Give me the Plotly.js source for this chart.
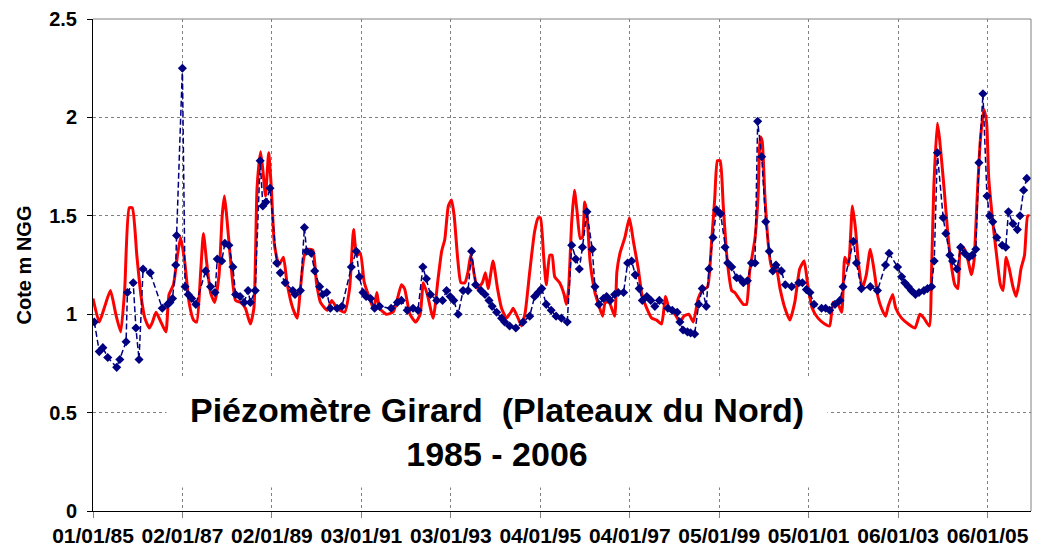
<!DOCTYPE html>
<html>
<head>
<meta charset="utf-8">
<script src="https://cdn.plot.ly/plotly-3.0.1.min.js"></script>
<style>html,body{margin:0;padding:0;background:#fff;}#chart{width:1038px;height:551px;}</style>
</head>
<body>
<div id="chart"></div>
<script>
// Observed levels (blue diamonds) : decimal year, level (m NGG)
const obsYear = [1985.03,1985.14,1985.22,1985.33,1985.53,1985.60,1985.74,1985.77,1985.90,1985.96,1986.03,1986.12,1986.28,1986.55,1986.67,1986.72,1986.78,1986.85,1986.87,1987.00,1987.06,1987.13,1987.21,1987.30,1987.52,1987.63,1987.73,1987.78,1987.88,1987.95,1988.04,1988.13,1988.19,1988.29,1988.38,1988.47,1988.52,
1988.63,1988.74,1988.80,1988.87,1988.96,1989.11,1989.19,1989.30,1989.47,1989.52,1989.64,1989.73,1989.78,1989.88,1989.96,1990.07,1990.14,1990.23,1990.31,1990.46,1990.57,1990.78,1990.89,1990.96,1991.04,1991.11,1991.21,1991.30,1991.41,1991.67,1991.81,1991.90,1992.03,
1992.16,1992.27,1992.38,1992.46,1992.55,1992.69,1992.82,1992.91,1992.99,1993.07,1993.17,1993.28,1993.39,1993.47,1993.56,1993.68,1993.77,1993.86,1993.93,1994.03,1994.14,1994.21,1994.32,1994.46,1994.62,1994.77,1994.88,1994.96,1995.04,1995.14,1995.25,1995.36,1995.48,1995.61,
1995.71,1995.80,1995.88,1995.95,1996.05,1996.17,1996.23,1996.32,1996.42,1996.49,1996.57,1996.67,1996.75,1996.87,1996.96,1997.05,1997.13,1997.22,1997.29,1997.39,1997.48,1997.57,1997.67,1997.86,1997.96,1998.07,1998.13,1998.20,1998.30,1998.37,1998.46,1998.55,1998.63,1998.72,1998.78,1998.87,1998.95,1999.04,1999.14,1999.20,
1999.29,1999.40,1999.48,1999.55,1999.64,1999.73,1999.81,1999.87,1999.96,2000.05,2000.13,2000.21,2000.28,2000.40,2000.49,2000.63,2000.79,2000.87,2000.96,2001.04,2001.13,2001.30,2001.39,2001.48,2001.60,2001.71,2001.78,2002.01,2002.08,2002.19,2002.39,2002.55,2002.73,2002.81,
2003.00,2003.09,2003.16,2003.24,2003.31,2003.40,2003.48,2003.59,2003.67,2003.76,2003.82,2003.89,2004.02,2004.08,2004.17,2004.23,2004.33,2004.41,2004.50,2004.60,2004.67,2004.75,2004.82,2004.91,2005.00,2005.06,2005.13,2005.22,2005.34,2005.42,2005.48,2005.58,2005.68,2005.74,2005.82,2005.89];
const obsLevel = [0.96,0.81,0.83,0.78,0.73,0.77,0.86,1.11,1.16,0.93,0.77,1.23,1.21,1.03,1.05,1.06,1.08,1.25,1.40,2.25,1.14,1.10,1.08,1.05,1.22,1.14,1.11,1.28,1.27,1.36,1.35,1.24,1.10,1.09,1.06,1.12,1.06,
1.12,1.78,1.55,1.57,1.64,1.26,1.21,1.16,1.12,1.10,1.12,1.44,1.32,1.31,1.22,1.14,1.10,1.11,1.03,1.03,1.04,1.24,1.32,1.19,1.11,1.09,1.08,1.03,1.04,1.03,1.06,1.07,1.02,
1.03,1.02,1.24,1.18,1.10,1.07,1.07,1.12,1.09,1.07,1.00,1.12,1.12,1.32,1.15,1.12,1.10,1.07,1.04,1.01,0.98,0.96,0.94,0.93,0.96,0.99,1.09,1.11,1.13,1.05,1.02,0.99,0.98,0.96,
1.35,1.28,1.23,1.34,1.52,1.33,1.14,1.05,1.08,1.09,1.07,1.10,1.11,1.11,1.26,1.27,1.20,1.13,1.07,1.09,1.07,1.04,1.07,1.03,1.02,1.01,0.96,0.92,0.91,0.905,0.90,1.05,1.13,1.04,1.23,1.39,1.53,1.51,1.34,1.26,
1.24,1.185,1.18,1.16,1.17,1.26,1.26,1.98,1.80,1.47,1.32,1.22,1.25,1.22,1.15,1.14,1.16,1.16,1.125,1.11,1.05,1.03,1.03,1.02,1.05,1.07,1.14,1.37,1.26,1.13,1.14,1.12,1.25,1.31,
1.24,1.19,1.16,1.14,1.12,1.10,1.11,1.12,1.13,1.14,1.27,1.82,1.49,1.41,1.30,1.27,1.23,1.34,1.31,1.29,1.30,1.33,1.77,2.12,1.60,1.50,1.47,1.39,1.35,1.34,1.52,1.46,1.43,1.50,1.63,1.69];

// Simulated levels (red line) : decimal year, level (m NGG)
const simYear = [1985.00,1985.14,1985.25,1985.39,1985.51,1985.62,1985.71,1985.81,1985.88,1985.98,1986.07,1986.16,1986.26,1986.33,1986.41,1986.52,1986.63,1986.70,1986.80,1986.89,1986.96,1987.05,1987.15,1987.25,1987.32,1987.41,1987.47,1987.54,1987.63,1987.72,1987.82,1987.89,1987.94,1987.99,1988.08,1988.19,1988.30,1988.41,1988.52,
1988.60,1988.67,1988.75,1988.81,1988.86,1988.93,1988.99,1989.06,1989.16,1989.26,1989.34,1989.47,1989.57,1989.64,1989.73,1989.83,1989.92,1990.00,1990.09,1990.24,1990.34,1990.46,1990.63,1990.74,1990.83,1990.90,1990.98,1991.07,1991.22,1991.28,1991.35,1991.41,1991.56,1991.71,1991.78,1991.90,1991.97,
1992.09,1992.22,1992.32,1992.39,1992.48,1992.61,1992.72,1992.80,1992.87,1992.95,1993.02,1993.08,1993.16,1993.23,1993.32,1993.39,1993.45,1993.53,1993.60,1993.71,1993.78,1993.84,1993.95,1994.05,1994.14,1994.25,1994.35,1994.40,1994.51,1994.59,1994.67,1994.77,1994.88,1994.96,1995.01,1995.08,1995.14,1995.22,1995.27,1995.33,1995.44,1995.54,1995.59,
1995.64,1995.71,1995.77,1995.83,1995.90,1995.95,1996.00,1996.05,1996.12,1996.23,1996.31,1996.40,1996.46,1996.55,1996.67,1996.72,1996.79,1996.90,1997.00,1997.09,1997.20,1997.28,1997.39,1997.50,1997.61,1997.72,1997.81,1997.90,1998.02,1998.13,1998.22,1998.33,1998.43,1998.54,1998.63,1998.75,1998.84,1998.91,1998.97,1999.03,1999.10,1999.19,
1999.29,1999.36,1999.45,1999.55,1999.62,1999.69,1999.81,1999.88,1999.93,1999.97,2000.03,2000.11,2000.18,2000.27,2000.37,2000.48,2000.59,2000.70,2000.81,2000.91,2000.99,2001.09,2001.22,2001.37,2001.48,2001.56,2001.67,2001.75,2001.82,2001.90,2001.99,2002.06,2002.12,2002.21,2002.30,2002.39,2002.48,2002.56,2002.64,2002.73,
2002.79,2002.89,2002.96,2003.09,2003.24,2003.39,2003.50,2003.59,2003.71,2003.76,2003.81,2003.89,2003.94,2004.04,2004.12,2004.19,2004.28,2004.35,2004.41,2004.50,2004.58,2004.65,2004.71,2004.78,2004.85,2004.93,2004.99,2005.04,2005.13,2005.22,2005.30,2005.36,2005.43,2005.50,2005.58,2005.65,2005.71,2005.76,2005.84,2005.91,2005.95];
const simLevel = [1.08,0.96,1.03,1.12,1.00,0.91,1.13,1.54,1.54,1.30,1.10,0.98,0.93,0.96,1.01,0.96,0.91,1.10,1.15,1.30,1.39,1.27,1.06,0.97,0.96,1.22,1.41,1.27,1.11,1.06,1.20,1.50,1.60,1.50,1.27,1.07,1.06,1.03,0.95,
1.03,1.64,1.825,1.71,1.60,1.82,1.64,1.35,1.25,1.29,1.16,1.03,0.98,1.13,1.30,1.33,1.325,1.16,1.06,1.02,1.07,1.03,1.01,1.13,1.43,1.30,1.31,1.16,1.06,1.025,1.11,1.03,1.00,1.01,1.05,1.15,1.13,
1.00,0.96,1.00,1.16,1.10,0.98,1.18,1.32,1.38,1.55,1.58,1.50,1.28,1.16,1.16,1.215,1.30,1.20,1.13,1.16,1.21,1.13,1.27,1.13,1.03,0.98,1.01,1.03,0.98,0.94,1.01,1.215,1.42,1.49,1.49,1.30,1.15,1.30,1.30,1.19,1.16,1.10,1.05,
1.13,1.47,1.63,1.52,1.385,1.39,1.57,1.51,1.27,1.11,1.05,0.99,1.06,1.06,0.99,1.215,1.31,1.39,1.49,1.37,1.23,1.10,1.03,0.98,0.97,0.95,1.09,1.02,1.00,0.96,0.99,1.00,0.96,1.08,1.12,1.14,1.37,1.59,1.78,1.78,1.55,1.27,
1.12,1.11,1.08,1.05,1.05,1.215,1.385,1.605,1.90,1.88,1.605,1.35,1.24,1.25,1.13,1.03,0.97,1.06,1.23,1.27,1.15,1.03,0.98,0.95,0.94,1.06,1.05,1.01,1.29,1.25,1.55,1.43,1.27,1.13,1.20,1.33,1.215,1.09,1.03,0.99,
1.04,1.10,1.03,0.98,0.95,0.93,1.00,0.98,0.94,1.215,1.64,1.97,1.89,1.64,1.42,1.27,1.15,1.13,1.35,1.33,1.27,1.20,1.27,1.59,1.88,2.04,1.98,1.69,1.47,1.29,1.15,1.12,1.29,1.23,1.14,1.09,1.15,1.23,1.30,1.50,1.50];

const yTicks = [0, 0.5, 1, 1.5, 2, 2.5];
const xTickStart = '1985-01-01';
const xTickStepDays = 731;

function toDate(y){
  const ms = Date.UTC(1985,0,1) + (y-1985)*365.25*864e5;
  return new Date(ms).toISOString().slice(0,19).replace('T',' ');
}

const FONT = 'Liberation Sans, Arial, sans-serif';

const traces = [
  {
    x: simYear.map(toDate), y: simLevel, type: 'scatter', mode: 'lines',
    line: {color: '#FF0000', width: 3, shape: 'spline', smoothing: 0.5},
    name: 'Simulé'
  },
  {
    x: obsYear.map(toDate), y: obsLevel, type: 'scatter', mode: 'lines+markers',
    line: {color: '#000080', width: 1.5, dash: '6px,3px'},
    marker: {symbol: 'diamond', size: 7, color: '#000080'},
    name: 'Observé'
  }
];

const layout = {
  width: 1038, height: 551,
  margin: {l: 93, r: 7, t: 19, b: 40},
  paper_bgcolor: '#fff', plot_bgcolor: '#fff',
  showlegend: false,
  xaxis: {
    type: 'date',
    range: [toDate(1985.0), toDate(2005.985)],
    tick0: xTickStart, dtick: xTickStepDays*864e5, tickformat: '%d/%m/%y',
    showgrid: true, gridcolor: '#808080', griddash: 'dot', gridwidth: 1,
    showline: true, linecolor: '#000', linewidth: 1,
    ticks: 'outside', ticklen: 6, tickcolor: '#808080',
    tickfont: {family: FONT, size: 21, color: '#000', weight: 700},
    zeroline: false
  },
  yaxis: {
    range: [0, 2.5], tickvals: yTicks,
    showgrid: true, gridcolor: '#808080', griddash: 'dot', gridwidth: 1,
    showline: true, linecolor: '#000', linewidth: 1,
    ticks: 'outside', ticklen: 5, tickcolor: '#000',
    tickfont: {family: FONT, size: 20, color: '#000', weight: 700},
    ticklabelstandoff: 6,
    zeroline: false,
    title: {text: 'Cote m NGG', font: {family: FONT, size: 20, color: '#000', weight: 700}, standoff: 12}
  },
  shapes: [
    {type: 'line', xref: 'paper', yref: 'paper', x0: 0, x1: 1, y0: 1, y1: 1, line: {color: '#808080', width: 1}},
    {type: 'line', xref: 'paper', yref: 'paper', x0: 1, x1: 1, y0: 0, y1: 1, line: {color: '#808080', width: 1}}
  ],
  annotations: [
    {
      xref: 'paper', yref: 'paper', x: 0.431, y: 0.16, xanchor: 'center', yanchor: 'middle',
      text: 'Piézomètre Girard\u00A0 (Plateaux du Nord)<br>1985 - 2006',
      showarrow: false, bgcolor: '#fff', borderpad: 10, width: 640, height: 90,
      font: {family: FONT, size: 34, color: '#000', weight: 700}
    }
  ]
};

Plotly.newPlot('chart', traces, layout, {displayModeBar: false, staticPlot: true});
</script>
</body>
</html>
